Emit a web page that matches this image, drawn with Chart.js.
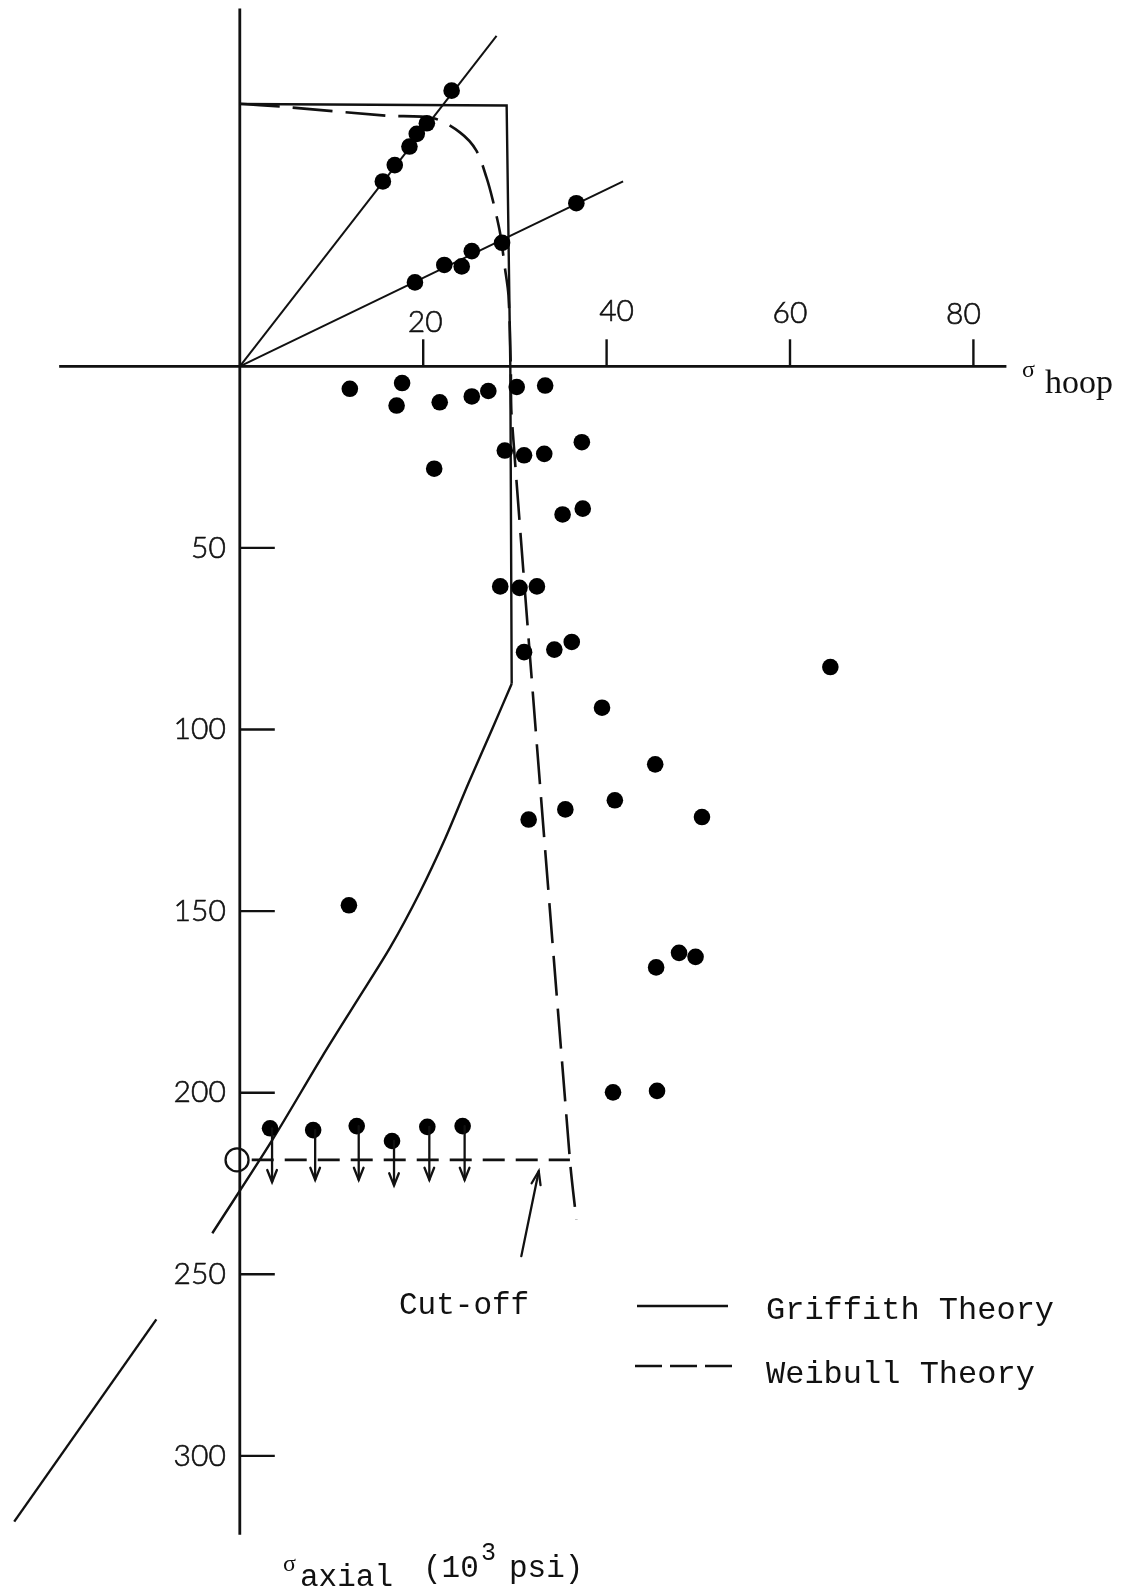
<!DOCTYPE html>
<html>
<head>
<meta charset="utf-8">
<script src="https://cdn.jsdelivr.net/npm/chart.js@4.4.1/dist/chart.umd.min.js"></script>
<style>
  html, body { margin: 0; padding: 0; background: #ffffff; }
  #wrap { width: 1133px; height: 1594px; position: relative; }
  canvas { display: block; }
</style>
</head>
<body>
<div id="wrap"><canvas id="chart" width="1133" height="1594"></canvas></div>
<script>
// ---------------- DATA (10^3 psi) ----------------
// hoop stress on x; axial stress on y (compression positive, drawn downward)
const hoopTicks  = [20, 40, 60, 80];
const axialTicks = [50, 100, 150, 200, 250, 300];
const hoopTickLabels  = ['20', '40', '60', '80'];
const axialTickLabels = ['50', '100', '150', '200', '250', '300'];

// tests above the hoop axis (two radial load paths)
const steepHoop    = [15.6, 16.9, 18.5, 19.3, 20.4, 23.1];
const steepAxial   = [-50.9, -55.4, -60.5, -64.0, -66.9, -75.9];
const shallowHoop  = [19.1, 22.3, 24.2, 25.3, 28.6, 36.7];
const shallowAxial = [-23.1, -27.9, -27.5, -31.7, -34.0, -44.9];

// radial load-path lines
const steepPathHoop    = [0, 28.0];
const steepPathAxial   = [0, -91.0];
const shallowPathHoop  = [0, 41.8];
const shallowPathAxial = [0, -50.9];

// tests below the hoop axis
const compHoop  = [12.0, 17.7, 17.1, 21.8, 25.3, 27.1, 30.2, 33.3,
                   21.2, 28.9, 31.0, 33.2, 37.3, 35.2, 37.4,
                   28.4, 30.5, 32.4, 31.0, 34.3, 36.2, 39.5, 64.4,
                   45.3, 40.9, 50.4, 35.5, 31.5, 11.9,
                   45.4, 47.9, 49.7, 40.7, 45.5];
const compAxial = [6.2, 4.6, 10.8, 9.9, 8.3, 6.8, 5.7, 5.3,
                   28.2, 23.2, 24.5, 24.1, 20.9, 40.8, 39.2,
                   60.6, 61.0, 60.6, 78.7, 78.0, 75.9, 94.0, 82.8,
                   109.6, 119.5, 124.1, 122.0, 124.8, 148.4,
                   165.5, 161.5, 162.6, 199.9, 199.5];

// run-out tests (arrowed points)
const runoutHoop  = [3.3, 8.0, 12.75, 16.6, 20.45, 24.3];
const runoutAxial = [209.8, 210.3, 209.2, 213.3, 209.4, 209.2];
const runoutArrowTip = [224.6, 224.0, 224.0, 225.5, 224.0, 224.0];

// uniaxial compression (open circle)
const uniaxialHoop  = [-0.3];
const uniaxialAxial = [218.5];

// Griffith theory: box part and curved compression part
const griffithBoxHoop    = [0, 29.1, 29.5, 29.65];
const griffithBoxAxial   = [-72.2, -71.8, 0, 87.4];
const griffithCurveHoop  = [29.65, 27.5, 24.9, 22.4, 19.6, 16.4, 12.7, 9.0, 3.5, -3.0];
const griffithCurveAxial = [87.4, 100.0, 115.0, 130.0, 145.0, 160.0, 175.0, 190.0, 213.2, 238.7];
const griffithTailHoop  = [-9.1, -24.6];
const griffithTailAxial = [262.4, 318.1];

// Weibull theory
const weibullHoop  = [0, 4.4, 16.0, 21.1, 24.0, 25.8, 26.9, 27.6, 28.4, 28.9, 29.3, 29.55, 29.65, 36.0, 36.7];
const weibullAxial = [-72.3, -71.5, -69.0, -68.3, -64.4, -59.4, -52.0, -45.6, -36.5, -27.3, -19.5, 0, 14.0, 218.5, 235.0];

// Cut-off
const cutoffHoop  = [1.3, 36.0];
const cutoffAxial = [218.5, 218.5];
const cutoffPointerHoop  = [30.7, 32.6];
const cutoffPointerAxial = [245.0, 221.6];

// axis extents
const hoopAxisExtent  = [-19.7, 83.6];
const axialAxisExtent = [-98.5, 321.7];

// ---------------- STYLE ----------------
const INK = '#111111';
const X_MIN = -239.8 / 9.17, X_MAX = (1133 - 239.8) / 9.17;
const Y_MIN = -366.3 / 3.632, Y_MAX = (1594 - 366.3) / 3.632;

const pts = (xs, ys) => xs.map((x, i) => ({ x: x, y: ys[i] }));

function arrowHead(ctx, x1, y1, x2, y2, len, ang) {
  const a = Math.atan2(y2 - y1, x2 - x1);
  ctx.beginPath();
  ctx.moveTo(x2 - len * Math.cos(a - ang), y2 - len * Math.sin(a - ang));
  ctx.lineTo(x2, y2);
  ctx.lineTo(x2 - len * Math.cos(a + ang), y2 - len * Math.sin(a + ang));
  ctx.stroke();
}

function inkText(ctx, s, x, y) {
  ctx.fillText(s, x, y);
  ctx.strokeText(s, x, y);
}

const decorPlugin = {
  id: 'decor',
  beforeDatasetsDraw(chart) {
    const { ctx } = chart;
    const xs = chart.scales.x, ys = chart.scales.y;
    const X = v => xs.getPixelForValue(v), Y = v => ys.getPixelForValue(v);
    ctx.save();
    ctx.strokeStyle = INK;
    ctx.lineCap = 'butt';
    ctx.lineWidth = 2.8;
    ctx.beginPath();
    ctx.moveTo(X(hoopAxisExtent[0]), Y(0)); ctx.lineTo(X(hoopAxisExtent[1]), Y(0));
    ctx.moveTo(X(0), Y(axialAxisExtent[0])); ctx.lineTo(X(0), Y(axialAxisExtent[1]));
    ctx.stroke();
    ctx.lineWidth = 2.4;
    hoopTicks.forEach(t => {
      ctx.beginPath(); ctx.moveTo(X(t), Y(0)); ctx.lineTo(X(t), Y(0) - 27); ctx.stroke();
    });
    axialTicks.forEach(t => {
      ctx.beginPath(); ctx.moveTo(X(0), Y(t)); ctx.lineTo(X(0) + 35, Y(t)); ctx.stroke();
    });
    // tick labels
    ctx.fillStyle = INK;
    ctx.lineWidth = 0.6;
    ctx.font = '300 30px Lato';
    ctx.textBaseline = 'middle';
    ctx.textAlign = 'center';
    const hoopNudge = [[2, -44], [10, -55], [0, -53], [-10, -52]];
    hoopTicks.forEach((t, i) => {
      inkText(ctx, hoopTickLabels[i], X(t) + hoopNudge[i][0], Y(0) + hoopNudge[i][1]);
    });
    ctx.textAlign = 'right';
    axialTicks.forEach((t, i) => {
      inkText(ctx, axialTickLabels[i], X(0) - 14, Y(t));
    });
    ctx.restore();
  },
  afterDatasetsDraw(chart) {
    const { ctx } = chart;
    const xs = chart.scales.x, ys = chart.scales.y;
    const X = v => xs.getPixelForValue(v), Y = v => ys.getPixelForValue(v);
    ctx.save();
    ctx.strokeStyle = INK;
    ctx.lineWidth = 2.3;
    ctx.lineCap = 'round';
    // run-out arrows
    runoutHoop.forEach((h, i) => {
      const x = X(h) + 2, y1 = Y(runoutAxial[i]), y2 = Y(runoutArrowTip[i]);
      ctx.beginPath(); ctx.moveTo(x, y1); ctx.lineTo(x, y2); ctx.stroke();
      arrowHead(ctx, x, y1, x, y2, 13, 0.38);
    });
    // cut-off pointer
    const px1 = X(cutoffPointerHoop[0]), py1 = Y(cutoffPointerAxial[0]);
    const px2 = X(cutoffPointerHoop[1]), py2 = Y(cutoffPointerAxial[1]);
    ctx.beginPath(); ctx.moveTo(px1, py1); ctx.lineTo(px2, py2); ctx.stroke();
    arrowHead(ctx, px1, py1, px2, py2, 14, 0.33);
    ctx.restore();
  },
  afterDraw(chart) {
    const { ctx } = chart;
    ctx.save();
    ctx.fillStyle = INK;
    ctx.strokeStyle = INK;
    ctx.textBaseline = 'alphabetic';
    ctx.textAlign = 'left';
    // hoop axis title
    ctx.font = '24px "Liberation Serif"';
    ctx.fillText('\u03c3', 1022, 377);
    ctx.font = '34px "Liberation Serif"';
    ctx.fillText('hoop', 1045, 393);
    // axial axis title
    ctx.font = '24px "Liberation Serif"';
    ctx.fillText('\u03c3', 283, 1571);
    ctx.font = '31px "Liberation Mono"';
    ctx.fillText('axial', 300, 1586);
    ctx.fillText('(10', 423, 1577);
    ctx.font = '25px "Liberation Mono"';
    ctx.fillText('3', 481, 1560);
    ctx.font = '31px "Liberation Mono"';
    ctx.fillText('psi)', 509, 1577);
    // cut-off label
    ctx.fillText('Cut-off', 399, 1314);
    // legend
    ctx.font = '32px "Liberation Mono"';
    ctx.fillText('Griffith Theory', 766, 1319);
    ctx.fillText('Weibull Theory', 766, 1383);
    ctx.lineWidth = 2.4;
    ctx.beginPath(); ctx.moveTo(637, 1306); ctx.lineTo(728, 1306); ctx.stroke();
    ctx.lineWidth = 2.6;
    ctx.setLineDash([27, 8]);
    ctx.beginPath(); ctx.moveTo(635, 1366); ctx.lineTo(735, 1366); ctx.stroke();
    ctx.restore();
  }
};

const lineDs = (label, xs, ys, extra) => Object.assign({
  label: label, data: pts(xs, ys), showLine: true, fill: false,
  borderColor: INK, borderWidth: 2.4, pointRadius: 0, pointHoverRadius: 0, tension: 0
}, extra || {});
const dotDs = (label, xs, ys) => ({
  label: label, data: pts(xs, ys), showLine: false,
  backgroundColor: '#000', borderColor: '#000', borderWidth: 0,
  pointRadius: 8.3, pointHoverRadius: 8.3
});

new Chart(document.getElementById('chart'), {
  type: 'scatter',
  data: {
    datasets: [
      dotDs('Tension-side tests (steep path)', steepHoop, steepAxial),
      dotDs('Tension-side tests (shallow path)', shallowHoop, shallowAxial),
      dotDs('Compression-side tests', compHoop, compAxial),
      dotDs('Run-out tests', runoutHoop, runoutAxial),
      {
        label: 'Uniaxial', data: pts(uniaxialHoop, uniaxialAxial), showLine: false,
        backgroundColor: 'rgba(0,0,0,0)', borderColor: INK, borderWidth: 2.3,
        pointRadius: 11.5, pointHoverRadius: 11.5
      },
      lineDs('Griffith Theory', griffithBoxHoop, griffithBoxAxial),
      lineDs('Griffith Theory (curve)', griffithCurveHoop, griffithCurveAxial, { tension: 0.3 }),
      lineDs('Griffith Theory (tail)', griffithTailHoop, griffithTailAxial),
      lineDs('Weibull Theory', weibullHoop, weibullAxial, { borderDash: [40, 13], borderWidth: 2.6, tension: 0.3 }),
      lineDs('Cut-off', cutoffHoop, cutoffAxial, { borderDash: [22, 11], borderWidth: 2.6 }),
      lineDs('Steep load path', steepPathHoop, steepPathAxial, { borderWidth: 2.0 }),
      lineDs('Shallow load path', shallowPathHoop, shallowPathAxial, { borderWidth: 2.0 })
    ]
  },
  options: {
    responsive: false,
    maintainAspectRatio: false,
    animation: false,
    devicePixelRatio: 1,
    layout: { padding: 0, autoPadding: false },
    events: [],
    scales: {
      x: { type: 'linear', display: false, min: X_MIN, max: X_MAX },
      y: { type: 'linear', display: false, min: Y_MIN, max: Y_MAX, reverse: true }
    },
    plugins: {
      legend: { display: false },
      tooltip: { enabled: false },
      title: { display: false }
    }
  },
  plugins: [decorPlugin]
});
</script>
</body>
</html>
